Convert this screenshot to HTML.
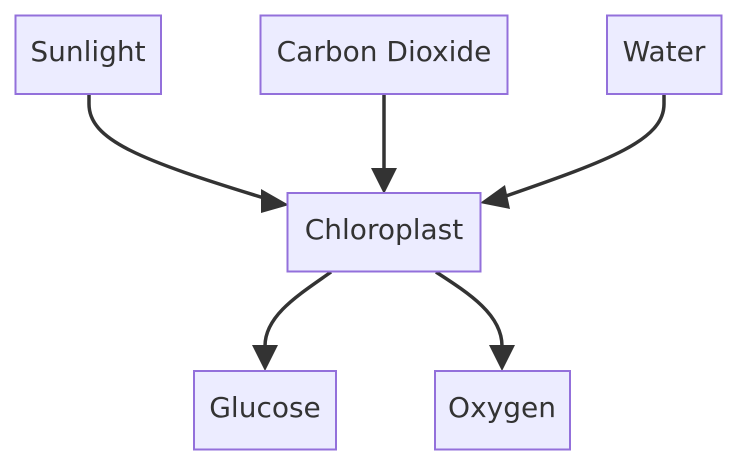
<!DOCTYPE html>
<html><head><meta charset="utf-8"><style>
html,body{margin:0;padding:0;background:#fff;}
svg{display:block;}
text{font-family:"DejaVu Sans","Liberation Sans",sans-serif;font-size:28px;fill:#333;text-anchor:middle;}
</style></head><body>
<svg width="738" height="465" viewBox="0 0 738 465" xmlns="http://www.w3.org/2000/svg">
<g fill="none" stroke="#333" stroke-width="3.5">
<path d="M89,94 L89,104 C89,140 140,160 264,198"/>
<path d="M384,94 L384,170"/>
<path d="M664,94 L664,104 C664,140 610,160 506,196"/>
<path d="M331,272 C300,294 265,315 265,346"/>
<path d="M436,272 C470,294 502,315 502,346"/>
</g>
<g fill="#333">
<polygon points="289,205 261,189 261,213"/>
<polygon points="384,194 371,168 397,168"/>
<polygon points="480,203 505,185 510,209"/>
<polygon points="265,371 252,345 278,345"/>
<polygon points="502,371 489,345 515,345"/>
</g>
<g fill="#ECECFF" stroke="#9370DB" stroke-width="2">
<rect x="15.5" y="15.5" width="145.5" height="78.5"/>
<rect x="260.5" y="15.5" width="247" height="78.5"/>
<rect x="607" y="15.5" width="114.5" height="78.5"/>
<rect x="287.5" y="193" width="193" height="78.5"/>
<rect x="194" y="371" width="142" height="78.5"/>
<rect x="435" y="371" width="135" height="78.5"/>
</g>
<text x="88" y="61">Sunlight</text>
<text x="384" y="61">Carbon Dioxide</text>
<text x="664" y="61">Water</text>
<text x="384" y="239">Chloroplast</text>
<text x="265" y="417">Glucose</text>
<text x="502" y="417">Oxygen</text>
</svg>
</body></html>
